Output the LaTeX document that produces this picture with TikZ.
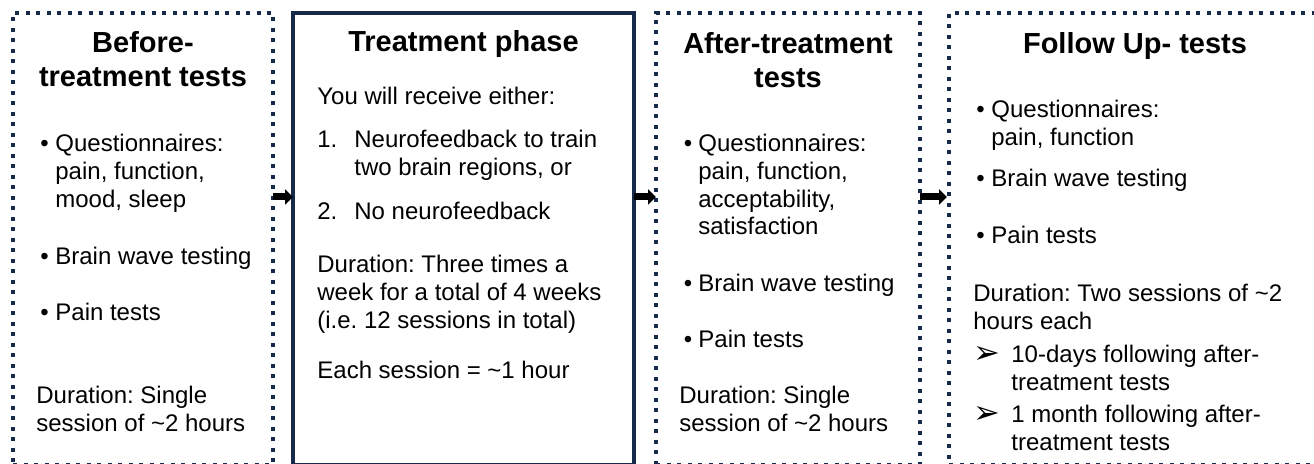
\documentclass[tikz,border=0pt]{standalone}
\usepackage{fontspec}
\setmainfont{Liberation Sans}
\newfontfamily\dingfont{DejaVu Sans}
\frenchspacing
\usetikzlibrary{arrows.meta,positioning}
\definecolor{boxnavy}{RGB}{23,42,74}
\tikzset
{
    dotbox/.style   = {rectangle, draw=boxnavy, line width=2pt, dash pattern=on 2pt off 3.25pt, anchor=north west, inner sep=0pt, outer sep=0pt, minimum height=226pt},
    phasebox/.style = {rectangle, draw=boxnavy, line width=2.25pt, anchor=north west, inner sep=0pt, outer sep=0pt, minimum height=226pt},
    boxtitle/.style = {font=\fontsize{14.5}{17}\selectfont\bfseries, align=center, anchor=base, inner sep=0pt},
    itemtext/.style = {font=\fontsize{12}{13.8}\selectfont, align=left, anchor=base west, inner sep=0pt},
    bul/.style      = {itemtext},
    tip/.style      = {itemtext, font=\fontsize{16}{13.8}\selectfont\dingfont},
    flow/.style     = {draw=black, line width=3.5pt, -{Triangle[length=4pt,width=7.5pt]}}
}
\begin{document}
\begin{tikzpicture}[x=0.5pt, y=-0.5pt]
    \useasboundingbox (0,0) rectangle (1314,464);
    \clip (0,0) rectangle (1314,464);

    % the four phases
    \node [dotbox, minimum width=130pt]   (before) at (13,13)  {};
    \node [phasebox, minimum width=170.5pt] (treat) at (293,13) {};
    \node [dotbox, minimum width=132pt]   (after)  at (656,13) {};
    \node [dotbox, minimum width=186pt]   (follow) at (949,13) {};

    % before (base = last line of each node)
    \node [boxtitle] (beforetitle) at (143,87) {Before-\\treatment tests};
    \node [bul] (beforeb1) at (40,152) {\textbullet};
    \node [itemtext] (beforeq) at (55,207.2) {Questionnaires:\\pain, function,\\mood, sleep};
    \node [bul] (beforeb2) at (40,265) {\textbullet};
    \node [itemtext] (beforebw) at (55,265) {Brain wave testing};
    \node [bul] (beforeb3) at (40,321) {\textbullet};
    \node [itemtext] (beforept) at (55,321) {Pain tests};
    \node [itemtext] (beforedur) at (36,431.6) {Duration: Single\\session of \textasciitilde2 hours};

    % treatment
    \node [boxtitle] (treattitle) at (463.5,52) {Treatment phase};
    \node [itemtext] (treatintro) at (317,105) {You will receive either:};
    \node [itemtext] (treatn1) at (317,148) {1.};
    \node [itemtext] (treatnf) at (354,175.6) {Neurofeedback to train\\two brain regions, or};
    \node [itemtext] (treatn2) at (317,220) {2.};
    \node [itemtext] (treatno) at (354,220) {No neurofeedback};
    \node [itemtext] (treatdur) at (317,328.2) {Duration: Three times a\\week for a total of 4 weeks\\(i.e. 12 sessions in total)};
    \node [itemtext] (treatsess) at (317,379) {Each session = \textasciitilde1 hour};

    % after
    \node [boxtitle] (aftertitle) at (788,88) {After-treatment\\tests};
    \node [bul] (afterb1) at (683.5,152) {\textbullet};
    \node [itemtext] (afterq) at (698,234.8) {Questionnaires:\\pain, function,\\acceptability,\\satisfaction};
    \node [bul] (afterb2) at (683.5,292) {\textbullet};
    \node [itemtext] (afterbw) at (698,292) {Brain wave testing};
    \node [bul] (afterb3) at (683.5,348) {\textbullet};
    \node [itemtext] (afterpt) at (698,348) {Pain tests};
    \node [itemtext] (afterdur) at (679,431.6) {Duration: Single\\session of \textasciitilde2 hours};

    % follow up
    \node [boxtitle] (followtitle) at (1135,54) {Follow Up- tests};
    \node [bul] (followb1) at (976,118) {\textbullet};
    \node [itemtext] (followq) at (991,145.6) {Questionnaires:\\pain, function};
    \node [bul] (followb2) at (976,187) {\textbullet};
    \node [itemtext] (followbw) at (991,187) {Brain wave testing};
    \node [bul] (followb3) at (976,244) {\textbullet};
    \node [itemtext] (followpt) at (991,244) {Pain tests};
    \node [itemtext] (followdur) at (973,329.6) {Duration: Two sessions of \textasciitilde2\\hours each};
    \node [tip] (followa1) at (973,364) {➢};
    \node [itemtext] (followten) at (1011,390.6) {10-days following after-\\treatment tests};
    \node [tip] (followa2) at (973,424) {➢};
    \node [itemtext] (followmonth) at (1011,450.6) {1 month following after-\\treatment tests};

    % arrows between phases
    \draw [flow] ([yshift=21pt]before.east) -- ([yshift=21pt]treat.west);
    \draw [flow] ([yshift=21pt]treat.east) -- ([yshift=21pt]after.west);
    \draw [flow, shorten >=1pt] ([yshift=21pt]after.east) -- ([yshift=21pt]follow.west);
\end{tikzpicture}
\end{document}
